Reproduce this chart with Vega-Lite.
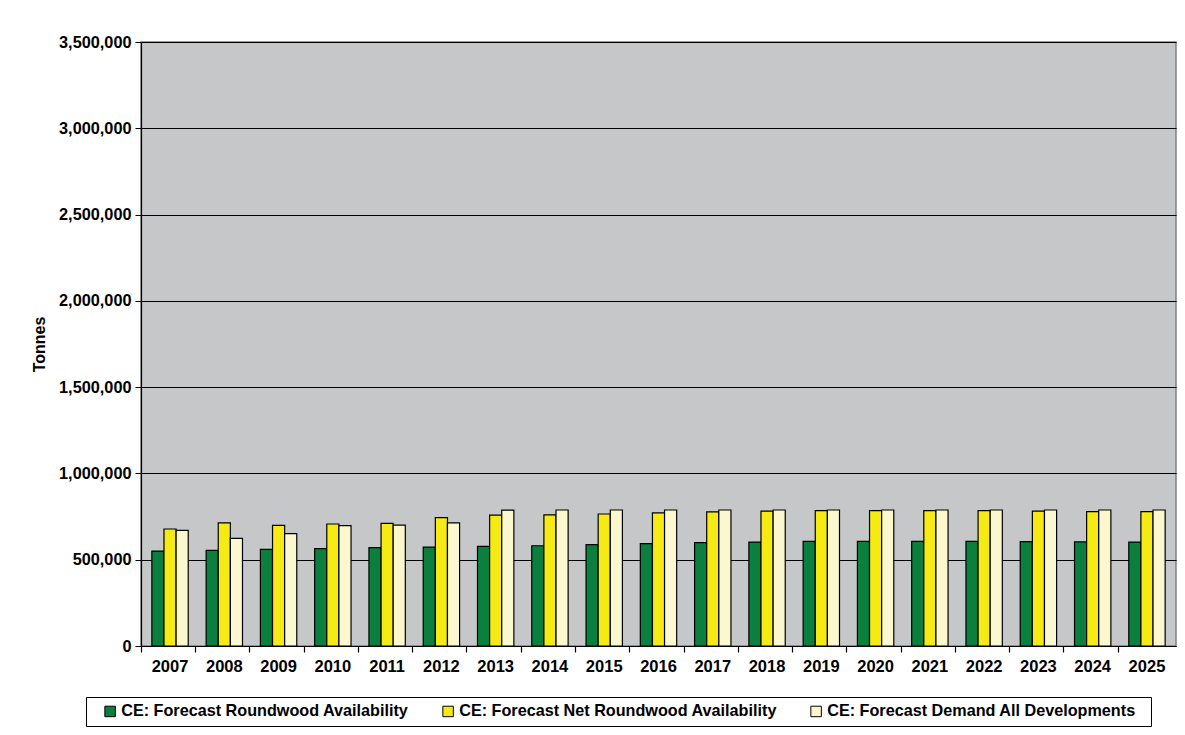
{
  "$schema": "https://vega.github.io/schema/vega-lite/v6.json",
  "autosize": {"type": "none"},
  "width": 1035,
  "height": 604,
  "padding": {"left": 141, "top": 42, "right": 9, "bottom": 89},
  "background": "white",
  "config": {
    "font": "Liberation Sans",
    "view": {"fill": "#C6C7C9", "stroke": "#808080", "strokeWidth": 1.5}
  },
  "data": {
    "values": [
      {"year": "2007", "series": "CE: Forecast Roundwood Availability", "tonnes": 550000},
      {"year": "2007", "series": "CE: Forecast Net Roundwood Availability", "tonnes": 678000},
      {"year": "2007", "series": "CE: Forecast Demand All Developments", "tonnes": 670000},
      {"year": "2008", "series": "CE: Forecast Roundwood Availability", "tonnes": 554000},
      {"year": "2008", "series": "CE: Forecast Net Roundwood Availability", "tonnes": 713000},
      {"year": "2008", "series": "CE: Forecast Demand All Developments", "tonnes": 624000},
      {"year": "2009", "series": "CE: Forecast Roundwood Availability", "tonnes": 560000},
      {"year": "2009", "series": "CE: Forecast Net Roundwood Availability", "tonnes": 699000},
      {"year": "2009", "series": "CE: Forecast Demand All Developments", "tonnes": 651000},
      {"year": "2010", "series": "CE: Forecast Roundwood Availability", "tonnes": 564000},
      {"year": "2010", "series": "CE: Forecast Net Roundwood Availability", "tonnes": 707000},
      {"year": "2010", "series": "CE: Forecast Demand All Developments", "tonnes": 698000},
      {"year": "2011", "series": "CE: Forecast Roundwood Availability", "tonnes": 570000},
      {"year": "2011", "series": "CE: Forecast Net Roundwood Availability", "tonnes": 711000},
      {"year": "2011", "series": "CE: Forecast Demand All Developments", "tonnes": 701000},
      {"year": "2012", "series": "CE: Forecast Roundwood Availability", "tonnes": 573000},
      {"year": "2012", "series": "CE: Forecast Net Roundwood Availability", "tonnes": 744000},
      {"year": "2012", "series": "CE: Forecast Demand All Developments", "tonnes": 713000},
      {"year": "2013", "series": "CE: Forecast Roundwood Availability", "tonnes": 577000},
      {"year": "2013", "series": "CE: Forecast Net Roundwood Availability", "tonnes": 758000},
      {"year": "2013", "series": "CE: Forecast Demand All Developments", "tonnes": 787000},
      {"year": "2014", "series": "CE: Forecast Roundwood Availability", "tonnes": 581000},
      {"year": "2014", "series": "CE: Forecast Net Roundwood Availability", "tonnes": 760000},
      {"year": "2014", "series": "CE: Forecast Demand All Developments", "tonnes": 788000},
      {"year": "2015", "series": "CE: Forecast Roundwood Availability", "tonnes": 587000},
      {"year": "2015", "series": "CE: Forecast Net Roundwood Availability", "tonnes": 765000},
      {"year": "2015", "series": "CE: Forecast Demand All Developments", "tonnes": 788000},
      {"year": "2016", "series": "CE: Forecast Roundwood Availability", "tonnes": 593000},
      {"year": "2016", "series": "CE: Forecast Net Roundwood Availability", "tonnes": 771000},
      {"year": "2016", "series": "CE: Forecast Demand All Developments", "tonnes": 788000},
      {"year": "2017", "series": "CE: Forecast Roundwood Availability", "tonnes": 599000},
      {"year": "2017", "series": "CE: Forecast Net Roundwood Availability", "tonnes": 777000},
      {"year": "2017", "series": "CE: Forecast Demand All Developments", "tonnes": 788000},
      {"year": "2018", "series": "CE: Forecast Roundwood Availability", "tonnes": 602000},
      {"year": "2018", "series": "CE: Forecast Net Roundwood Availability", "tonnes": 781000},
      {"year": "2018", "series": "CE: Forecast Demand All Developments", "tonnes": 788000},
      {"year": "2019", "series": "CE: Forecast Roundwood Availability", "tonnes": 606000},
      {"year": "2019", "series": "CE: Forecast Net Roundwood Availability", "tonnes": 785000},
      {"year": "2019", "series": "CE: Forecast Demand All Developments", "tonnes": 788000},
      {"year": "2020", "series": "CE: Forecast Roundwood Availability", "tonnes": 606000},
      {"year": "2020", "series": "CE: Forecast Net Roundwood Availability", "tonnes": 784000},
      {"year": "2020", "series": "CE: Forecast Demand All Developments", "tonnes": 788000},
      {"year": "2021", "series": "CE: Forecast Roundwood Availability", "tonnes": 606000},
      {"year": "2021", "series": "CE: Forecast Net Roundwood Availability", "tonnes": 784000},
      {"year": "2021", "series": "CE: Forecast Demand All Developments", "tonnes": 788000},
      {"year": "2022", "series": "CE: Forecast Roundwood Availability", "tonnes": 606000},
      {"year": "2022", "series": "CE: Forecast Net Roundwood Availability", "tonnes": 784000},
      {"year": "2022", "series": "CE: Forecast Demand All Developments", "tonnes": 788000},
      {"year": "2023", "series": "CE: Forecast Roundwood Availability", "tonnes": 605000},
      {"year": "2023", "series": "CE: Forecast Net Roundwood Availability", "tonnes": 781000},
      {"year": "2023", "series": "CE: Forecast Demand All Developments", "tonnes": 788000},
      {"year": "2024", "series": "CE: Forecast Roundwood Availability", "tonnes": 603000},
      {"year": "2024", "series": "CE: Forecast Net Roundwood Availability", "tonnes": 779000},
      {"year": "2024", "series": "CE: Forecast Demand All Developments", "tonnes": 788000},
      {"year": "2025", "series": "CE: Forecast Roundwood Availability", "tonnes": 602000},
      {"year": "2025", "series": "CE: Forecast Net Roundwood Availability", "tonnes": 779000},
      {"year": "2025", "series": "CE: Forecast Demand All Developments", "tonnes": 788000}
    ]
  },
  "encoding": {
    "x": {
      "field": "year",
      "type": "nominal",
      "scale": {"paddingInner": 0.33, "paddingOuter": 0.2}
    },
    "xOffset": {
      "field": "series",
      "type": "nominal",
      "sort": ["CE: Forecast Roundwood Availability", "CE: Forecast Net Roundwood Availability", "CE: Forecast Demand All Developments"],
      "scale": {"paddingInner": 0, "paddingOuter": 0}
    },
    "y": {
      "field": "tonnes",
      "type": "quantitative",
      "scale": {"domain": [0, 3500000], "nice": false}
    }
  },
  "layer": [
    {
      "mark": {"type": "bar", "stroke": "black", "strokeWidth": 1.2},
      "encoding": {
        "x": {
          "field": "year",
          "type": "nominal",
          "axis": {
            "orient": "bottom",
            "title": null,
            "labelAngle": 0,
            "ticks": false,
            "grid": false,
            "domain": true,
            "domainColor": "black",
            "domainWidth": 1.2,
            "labelFont": "Liberation Sans",
            "labelFontSize": 16.5,
            "labelFontWeight": "bold",
            "labelColor": "black",
            "labelPadding": 12
          }
        },
        "y": {
          "field": "tonnes",
          "type": "quantitative",
          "axis": {
            "title": "Tonnes",
            "titleFont": "Liberation Sans",
            "titleFontSize": 16,
            "titleFontWeight": "bold",
            "titleColor": "black",
            "titlePadding": 11,
            "values": [0, 500000, 1000000, 1500000, 2000000, 2500000, 3000000, 3500000],
            "format": ",d",
            "grid": true,
            "gridColor": "black",
            "gridOpacity": 1,
            "gridWidth": 1,
            "tickColor": "black",
            "tickSize": 6,
            "domainColor": "black",
            "domainWidth": 1.2,
            "labelFont": "Liberation Sans",
            "labelFontSize": 16.3,
            "labelFontWeight": "bold",
            "labelColor": "black",
            "labelPadding": 4
          }
        },
        "color": {
          "field": "series",
          "type": "nominal",
          "scale": {
            "domain": ["CE: Forecast Roundwood Availability", "CE: Forecast Net Roundwood Availability", "CE: Forecast Demand All Developments"],
            "range": ["#0B7F3D", "#F5EA14", "#FBF8D0"]
          },
          "legend": {
            "orient": "none",
            "legendX": -55,
            "legendY": 655,
            "direction": "horizontal",
            "title": "\u00a0",
            "titleOrient": "right",
            "titleFontSize": 16,
            "titlePadding": 9,
            "strokeColor": "black",
            "fillColor": "white",
            "padding": 6,
            "symbolType": "square",
            "symbolSize": 110,
            "symbolOffset": 10,
            "symbolStrokeColor": "black",
            "symbolStrokeWidth": 1,
            "symbolOpacity": 1,
            "labelFont": "Liberation Sans",
            "labelFontSize": 16.2,
            "labelFontWeight": "bold",
            "labelColor": "black",
            "labelLimit": 0,
            "labelOffset": 3,
            "columnPadding": 21
          }
        }
      }
    },
    {
      "mark": {"type": "bar", "opacity": 0},
      "encoding": {
        "x": {
          "field": "year",
          "type": "nominal",
          "axis": {
            "orient": "bottom",
            "title": null,
            "labels": false,
            "domain": false,
            "grid": false,
            "ticks": true,
            "tickColor": "black",
            "tickSize": 6,
            "tickWidth": 1.2,
            "bandPosition": -0.29
          }
        }
      }
    }
  ],
  "resolve": {"axis": {"x": "independent"}}
}
